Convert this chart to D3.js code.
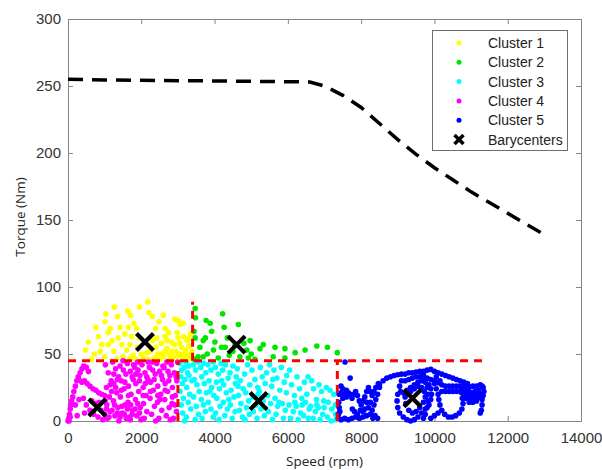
<!DOCTYPE html>
<html>
<head>
<meta charset="utf-8">
<script src="https://cdn.jsdelivr.net/npm/d3@7"></script>
<style>
  body { margin: 0; background: #fff; }
  svg { display: block; }
  .tick text { font-family: "Liberation Sans", Arial, sans-serif; font-size: 15px; fill: #333; }
  .axis path, .axis line { stroke: #858585; }
</style>
</head>
<body>
<div id="chart"></div>
<script>
// cluster points [speed (rpm), torque (Nm)]
const cluster1 = [[2175,89],[2210,81],[1265,85],[1630,82],[1700,79],[1030,80],[1010,74],[760,70],[1155,69],[1420,70],[1650,70],[1870,69],[2390,69],[2650,69],[3010,75],[3060,72],[2920,76],[3150,73],[555,59],[480,53],[830,63],[920,57],[1100,57],[1370,62],[1470,57],[1740,63],[1690,57],[2420,62],[2650,63],[2830,59],[3000,62],[720,50],[1330,46],[1780,49],[2000,50],[2250,52],[2400,55],[2550,50],[2700,54],[2850,52],[2950,48],[3100,55],[3200,50],[3300,47],[3250,60],[3350,65],[3150,63],[2750,66],[2550,58],[2300,60],[1900,55],[1950,62],[1800,73],[1550,65],[1250,52],[1000,48],[650,46],[880,52],[1500,48],[1600,53],[1850,46],[2050,47],[2150,51],[2350,47],[2500,46],[2600,48],[2800,47],[2900,57],[3050,58],[3200,53],[3300,56],[3380,52],[2480,74],[2300,78],[1950,85],[1350,78],[1100,66],[2700,60],[2980,66],[3100,47],[2200,46],[1700,47],[1200,60],[2600,79],[3300,62],[3370,47],[2850,48],[2950,52],[3050,50],[3150,48],[3250,45],[3350,50],[2750,50],[2650,52],[2450,50]];

const cluster2 = [[3470,84],[3480,77],[4220,80],[3770,75],[3880,73],[4650,72],[3920,67],[3440,67],[4260,70],[3470,62],[3690,60],[4010,59],[4970,60],[5330,57],[5650,55],[5920,54],[6200,51],[6470,53],[6790,56],[7080,55],[7350,51],[4190,55],[4290,55],[3970,53],[4880,53],[3690,48],[3550,48],[4100,47],[4690,48],[4920,47],[5600,48],[5920,47],[5240,54],[4500,52],[3600,55],[3800,50],[4400,49],[5000,50],[3450,46],[4800,58],[4350,62],[5100,46],[3750,62],[4550,56]];

const cluster3 = [[3050,43],[3100,38],[3080,33],[3120,28],[3060,22],[3150,17],[3090,12],[3130,6],[3180,0],[3170,40],[3190,31],
  [3220,44],[3260,36],[3300,41],[3240,25],[3320,20],[3280,14],[3350,9],[3230,3],[3380,30],[3300,34],
  [3420,42],[3480,38],[3550,44],[3450,31],[3520,27],[3580,22],[3430,18],[3500,11],[3560,5],[3470,1],
  [3620,40],[3700,43],[3760,36],[3650,33],[3720,28],[3780,21],[3640,16],[3700,12],[3750,7],[3660,2],
  [3820,42],[3900,38],[3960,44],[3850,30],[3920,25],[3980,19],[3830,14],[3900,9],[3960,3],[3870,22],
  [4020,40],[4100,35],[4180,43],[4050,29],[4130,24],[4060,17],[4150,11],[4030,6],[4120,1],[4190,30],
  [4220,38],[4300,42],[4370,32],[4250,27],[4320,21],[4240,14],[4350,9],[4280,4],[4390,16],
  [4420,36],[4500,41],[4570,28],[4450,23],[4530,18],[4430,12],[4560,7],[4480,2],[4590,33],
  [4620,39],[4700,30],[4780,24],[4650,19],[4720,13],[4680,8],[4760,3],[4640,26],
  [4820,35],[4900,42],[4960,27],[4850,21],[4930,15],[4870,10],[4950,5],[4830,1],
  [5020,38],[5100,31],[5180,25],[5050,18],[5130,12],[5060,7],[5160,2],[5190,20],
  [5250,40],[5300,33],[5380,28],[5220,22],[5330,15],[5270,9],[5360,4],
  [5420,36],[5500,42],[5560,26],[5450,19],[5530,13],[5470,7],[5580,1],[5590,31],
  [5620,38],[5700,32],[5780,23],[5650,17],[5720,11],[5680,5],[5760,14],
  [5820,40],[5900,29],[5960,21],[5850,13],[5930,8],[5880,2],[5970,34],
  [6050,38],[6100,27],[6180,19],[6030,12],[6150,7],[6080,2],[6190,14],
  [6250,33],[6320,24],[6380,17],[6230,11],[6350,6],[6280,1],[6390,12],
  [6450,29],[6550,33],[6520,20],[6480,14],[6580,9],[6430,4],[6560,2],
  [6650,30],[6700,24],[6780,16],[6620,11],[6750,7],[6690,2],[6790,12],
  [6850,27],[6920,22],[6980,15],[6830,10],[6950,5],[6880,1],[6990,10],
  [7050,25],[7150,23],[7250,20],[7100,14],[7200,9],[7300,5],[7080,3],[7180,0],[7320,1],[7300,12]];

const cluster4 = [[0,0],[20,2],[40,5],[60,9],[80,12],[100,15],[130,18],[160,22],[200,26],[240,30],[280,33],[330,36],[380,39],[430,41],[500,40],[560,37],
  [300,31],[380,29],[450,30],[520,28],[600,26],[680,24],[760,23],[840,21],[920,20],[1000,19],
  [30,0],[60,3],[200,12],[300,16],[420,17],[500,12],[600,8],[700,5],[820,3],[900,8],[950,1],[250,4],[450,6],[650,15],[750,13],[850,14],
  [1020,42],[1100,36],[1180,30],[1050,25],[1130,18],[1060,12],[1150,7],[1080,2],[1190,22],[1010,15],
  [1220,44],[1300,39],[1380,33],[1250,28],[1330,21],[1240,15],[1360,10],[1280,4],[1390,0],[1300,25],
  [1420,41],[1500,45],[1580,35],[1450,30],[1530,24],[1430,18],[1560,12],[1480,6],[1590,2],[1510,38],
  [1620,43],[1700,37],[1780,31],[1650,26],[1720,20],[1640,14],[1760,8],[1680,3],[1790,42],[1710,12],
  [1820,40],[1900,44],[1960,34],[1850,28],[1930,22],[1840,16],[1970,10],[1880,4],[1990,1],[1910,38],
  [2020,42],[2100,36],[2180,31],[2050,25],[2130,19],[2060,13],[2150,7],[2080,2],[2190,44],[2110,28],
  [2220,40],[2300,44],[2380,35],[2250,29],[2330,23],[2240,17],[2360,11],[2280,5],[2390,0],[2310,38],
  [2420,43],[2500,37],[2580,31],[2450,26],[2530,20],[2440,14],[2560,8],[2480,2],[2590,41],[2510,16],
  [2620,40],[2700,44],[2780,34],[2650,28],[2720,22],[2640,16],[2760,10],[2680,4],[2790,1],[2730,37],
  [2820,42],[2900,36],[2970,30],[2850,25],[2930,19],[2840,13],[2960,7],[2880,2],[2990,44],[2910,12],
  [1000,5],[1050,9],[1120,3],[1200,8],[1270,12],[1350,6],[1420,3],[1470,11],[1540,5],[1620,9],[1700,1],[1750,5],[1830,9],[1900,13],[1950,6],
  [1150,27],[1350,31],[1550,29],[1750,33],[1950,30],[2150,33],[2350,31],[2550,34],[2750,30],[2950,33],[1250,35],[1450,23],[1650,19],[1850,35],[2050,19],[2250,22],[2450,19],[2650,23],[2850,18]];

const cluster5 = [[7380,2],[7450,1],[7550,2],[7650,1],[7750,2],[7850,3],[7950,2],[8050,3],[8150,4],[8250,5],[8300,8],[8350,12],[8400,16],[8450,20],[8500,25],[8470,28],[8400,25],[8350,22],[8300,19],[8250,22],[8200,25],[8150,22],[8100,18],[8050,15],[8000,12],[7950,15],[7900,19],[7850,22],[7800,20],[7750,17],[7700,20],[7650,21],[7600,18],[7550,20],[7500,17],[7450,21],[7400,20],[7390,14],[7400,10],[7420,7],[7380,5],[8200,10],[8250,14],[8150,14],[8100,9],[8050,7],[7980,8],[7900,5],[7820,7],[7760,9],[8450,2],[8380,4],[8320,2],[7700,32],[7560,44],[7450,26],[7500,24],[7600,23],
  [8500,27],[8600,30],[8700,32],[8800,33],[8900,34],[9000,34.5],[9100,35],[9200,35],[9300,36],[9400,36],[9500,36.5],[9600,37],[9700,37],[9800,38],[9900,38.5],[10000,37],[10100,36],[10200,35],[10300,34],[10400,33],[10500,32],[10600,31],[10700,30],[10800,29],[10900,28],
  [9200,30],[9300,31],[9400,32],[9500,33],[9600,33],[9700,33],[9800,32],[9900,31],[10000,30],[10100,28.5],[10200,27],[10300,26],[10400,26],[10500,26],[10600,26],[10700,26],[10800,25],[10900,24],
  [9000,20],[8980,15],[9000,10],[9050,6],[9150,3],[9250,1],[9350,0],[9450,1],[9550,3],[9650,6],[9750,9],[9850,12],[9900,16],[9920,20],[9900,24],[9850,27],[9750,29],[9650,30],[9550,29],[9450,27],[9350,25],[9250,23],[9150,21],[9080,22],[9050,26],[9100,30],
  [9200,18],[9220,13],[9300,8],[9400,6],[9500,7],[9600,10],[9700,14],[9750,18],[9720,22],[9650,25],[9550,26],[9450,24],[9350,22],[9250,20],
  [10000,28],[10050,24],[10100,20],[10120,16],[10150,12],[10200,8],[10280,5],[10380,3],[10480,3],[10580,4],[10680,6],[10750,9],[10780,13],[10760,17],[10740,21],[10750,24],[10850,25],[10950,25.5],[11050,26],[11150,26],[11250,27],[11330,25],[11350,22],[11330,19],[11300,16],[11300,12],[11280,8],[11250,6],[11300,26],[11250,20],[11200,18],[11150,20],[11100,17],[11050,19],[11000,16],[10950,18],[10900,20],[10950,22],[11000,21],[11100,22],[11200,23],[11150,15],[11050,14],[10950,14],[10850,17],[10800,20],[10850,22],
  [10200,22],[10300,22],[10400,22],[10500,22],[10600,22],[10700,22],[10150,30],[10050,33],
  [9700,35],[9750,30],[9800,25],[9820,20],[9830,15],[9800,10],[9750,5],[9700,2],[9900,2],[10000,4],[10100,6]];

const barycenters = [[2100,59],[4600,57],[5200,15],[800,10],[9400,17]];

// max torque envelope
const envelope = [[0,255],[1000,254.5],[3000,254],[5000,253.5],[6600,253],[7000,250],[7500,243],[8000,234],[8500,222],[9000,210],[9500,199],[10000,189],[10500,180],[11000,171],[11500,163],[12000,155],[12500,147],[13000,139]];

// red region borders
const borders = [
  [[0,45],[11400,45]],
  [[3000,0],[3000,45]],
  [[3400,45],[3400,89]],
  [[7350,0],[7350,45]]
];

const clusterNames = ['Cluster 1','Cluster 2','Cluster 3','Cluster 4','Cluster 5'];
const clusterColors = ['#ffff00','#00e600','#00ffff','#ff00ff','#0000ff'];
const xTicks = [0,2000,4000,6000,8000,10000,12000,14000];
const yTicks = [0,50,100,150,200,250,300];

const width = 602, height = 470;
const margin = { top: 19, right: 21, bottom: 49, left: 68 };
const w = width - margin.left - margin.right;
const h = height - margin.top - margin.bottom;

const svg = d3.select('#chart').append('svg')
  .attr('width', width).attr('height', height);
const g = svg.append('g').attr('transform', `translate(${margin.left},${margin.top})`);

const x = d3.scaleLinear().domain([0, 14000]).range([0, w]);
const y = d3.scaleLinear().domain([0, 300]).range([h, 0]);

// axes, ticks pointing inward
g.append('g').attr('class', 'axis').attr('transform', `translate(0,${h})`)
  .call(d3.axisBottom(x).tickValues(xTicks).tickFormat(d3.format('d')).tickSizeInner(-5).tickSizeOuter(0).tickPadding(11));
g.append('g').attr('class', 'axis')
  .call(d3.axisLeft(y).tickValues(yTicks).tickSizeInner(-5).tickSizeOuter(0).tickPadding(7));
g.append('g').attr('class', 'axis')
  .call(d3.axisTop(x).tickValues(xTicks).tickFormat('').tickSizeInner(-5).tickSizeOuter(0));
g.append('g').attr('class', 'axis').attr('transform', `translate(${w},0)`)
  .call(d3.axisRight(y).tickValues(yTicks).tickFormat('').tickSizeInner(-5).tickSizeOuter(0));
g.selectAll('.axis .domain').attr('stroke', '#858585');

// scatter
const clusters = [cluster1, cluster2, cluster3, cluster4, cluster5];
clusters.forEach((pts, i) => {
  g.append('g').selectAll('circle').data(pts).enter()
    .append('circle')
    .attr('cx', d => x(d[0]))
    .attr('cy', d => y(d[1]))
    .attr('r', 2.8)
    .attr('fill', clusterColors[i]);
});

const line = d3.line().x(d => x(d[0])).y(d => y(d[1]));

g.selectAll('path.border').data(borders).enter()
  .append('path').attr('class', 'border')
  .attr('d', line)
  .attr('fill', 'none')
  .attr('stroke', '#ff0000')
  .attr('stroke-width', 3)
  .attr('stroke-dasharray', '8,6');

g.append('path')
  .attr('d', line(envelope))
  .attr('fill', 'none')
  .attr('stroke', '#000')
  .attr('stroke-width', 3.5)
  .attr('stroke-dasharray', '15,9');

// barycenter crosses
const cross = (s) => `M${-s},${-s}L${s},${s}M${-s},${s}L${s},${-s}`;
g.selectAll('path.bary').data(barycenters).enter()
  .append('path').attr('class', 'bary')
  .attr('transform', d => `translate(${x(d[0])},${y(d[1])})`)
  .attr('d', cross(8.5))
  .attr('stroke', '#000')
  .attr('stroke-width', 4.2);

// axis titles
svg.append('text')
  .attr('x', margin.left + w / 2).attr('y', 466)
  .attr('text-anchor', 'middle')
  .style('font-family', '"Open Sans", sans-serif').style('font-size', '13.5px').attr('fill', '#222')
  .text('Speed (rpm)');
svg.append('text')
  .attr('transform', `translate(25,${margin.top + h / 2 - 3}) rotate(-90)`)
  .attr('text-anchor', 'middle')
  .style('font-family', '"Open Sans", sans-serif').style('font-size', '13.5px').attr('fill', '#222')
  .text('Torque (Nm)');

// legend
const legend = svg.append('g');
legend.append('rect')
  .attr('x', 432.5).attr('y', 30.5).attr('width', 135).attr('height', 120)
  .attr('fill', '#fff').attr('stroke', '#6e6e6e');
clusterNames.forEach((name, i) => {
  const ly = 43 + i * 19.3;
  legend.append('circle').attr('cx', 459).attr('cy', ly).attr('r', 2.5).attr('fill', clusterColors[i]);
  legend.append('text').attr('x', 488).attr('y', ly + 5)
    .style('font-family', '"Liberation Sans", Arial, sans-serif').style('font-size', '14px').attr('fill', '#222')
    .text(name);
});
const by = 43 + 5 * 19.3;
legend.append('path').attr('transform', `translate(459,${by})`)
  .attr('d', cross(4.5)).attr('stroke', '#000').attr('stroke-width', 3.5);
legend.append('text').attr('x', 488).attr('y', by + 5)
  .style('font-family', '"Liberation Sans", Arial, sans-serif').style('font-size', '14px').attr('fill', '#222')
  .text('Barycenters');
</script>
</body>
</html>
